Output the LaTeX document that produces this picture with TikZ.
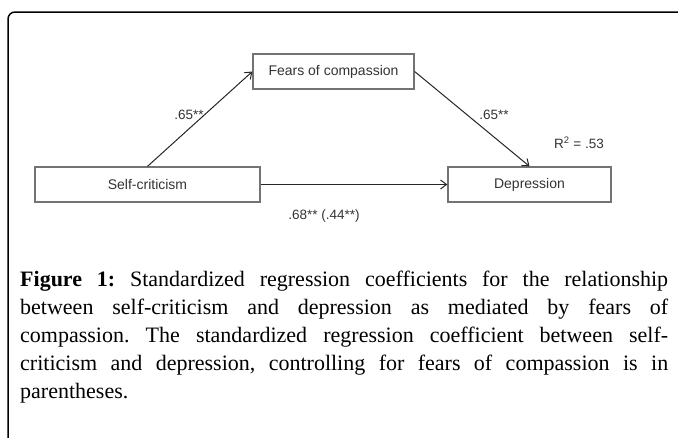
\documentclass[tikz,border=0pt]{standalone}
\usepackage{fontspec}
\setmainfont{Liberation Serif}
\newfontfamily\diagfont{Liberation Sans}
\usetikzlibrary{positioning,arrows.meta}

\tikzset{
  varbox/.style={draw=black!55,line width=1.3pt,minimum height=35pt,
                 font=\diagfont\fontsize{14}{16}\selectfont,text=black!80},
  coef/.style={font=\diagfont\fontsize{13.5}{16}\selectfont,text=black!80,inner sep=1pt},
  path/.style={draw=black!85,line width=1pt,-{Straight Barb[length=6pt,width=9pt]}}
}

\begin{document}
\begin{tikzpicture}[x=1pt,y=-1pt]
\useasboundingbox (0,0) rectangle (678,437);

%% frame
\draw[line width=1.5pt,rounded corners=7pt] (8,445) -- (8,12) -- (690,12);

%% variables
\node[varbox,minimum width=161pt] (fears) at (333.5,71.5) {Fears of compassion};
\node[varbox,minimum width=225pt] (selfcrit) at (147.5,184.5) {Self-criticism};
\node[varbox,minimum width=163pt] (depr) at (529.5,184.5) {Depression};

%% paths
\draw[path] (selfcrit.north) -- (fears.west);
\draw[path] (fears.east) -- (depr.north);
\draw[path] (selfcrit.east) -- (depr.west);

\node[coef] (afirst) at (189,115) {.65**};
\node[coef] (bsecond) at (494,115) {.65**};
\node[coef] (rsq) at (579,143) {R\textsuperscript{2} = .53};
\node[coef] (cdirect) at (324,216) {.68** (.44**)};

%% caption
\node[anchor=north west,text width=648pt,align=justify,inner sep=0pt,
      font=\fontsize{22}{28}\selectfont\frenchspacing] (caption) at (20,271)
  {\textbf{Figure 1:} Standardized regression coefficients for the relationship\linebreak
   between self-criticism and depression as mediated by fears of\linebreak
   compassion. The standardized regression coefficient between self-\linebreak
   criticism and depression, controlling for fears of compassion is in\linebreak
   parentheses.};
\end{tikzpicture}
\end{document}
